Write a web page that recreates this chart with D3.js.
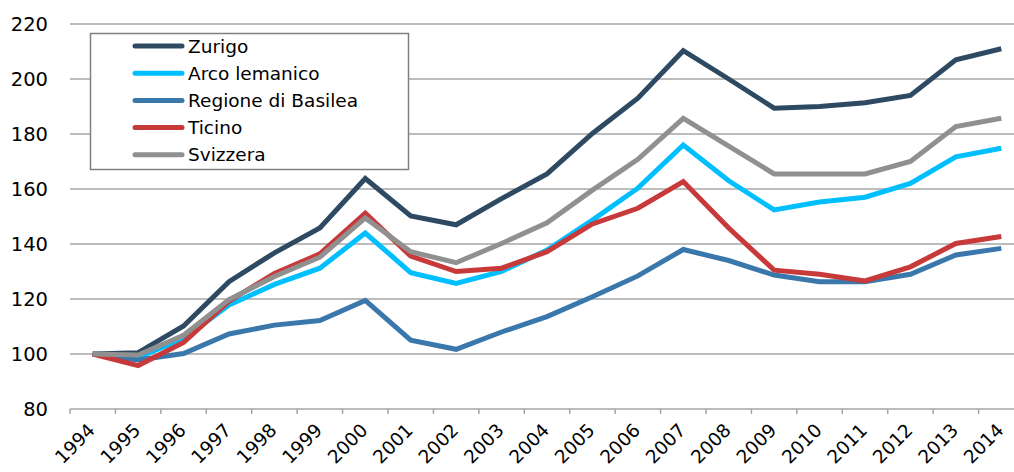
<!DOCTYPE html>
<html>
<head>
<meta charset="utf-8">
<script src="https://cdn.jsdelivr.net/npm/d3@7"></script>
<style>
  body { margin: 0; background: #fff; }
  svg text { font-family: "DejaVu Sans", "Liberation Sans", sans-serif; fill: #000; }
</style>
</head>
<body>
<div id="chart"></div>
<script>
var years = ["1994","1995","1996","1997","1998","1999","2000","2001","2002","2003","2004",
             "2005","2006","2007","2008","2009","2010","2011","2012","2013","2014"];

var zurigo   = [100, 100.5, 110.2, 126.3, 136.8, 145.8, 163.8, 150.2, 147, 156.5, 165.5, 180.2, 193, 210.3, 200, 189.4, 190, 191.4, 194, 207, 211];
var arco     = [100, 98.8, 105.5, 117.8, 125.3, 131.2, 144, 129.6, 125.7, 130, 137.8, 148.7, 160.3, 176, 163, 152.4, 155.3, 157, 162, 171.7, 174.8];
var basilea  = [100, 97.8, 100.2, 107.3, 110.5, 112.2, 119.5, 105, 101.7, 108, 113.6, 120.8, 128.4, 138, 134, 128.7, 126.3, 126.3, 129, 136, 138.4];
var ticino   = [100, 95.8, 104.2, 119.2, 129.3, 136.4, 151.2, 135.6, 130, 131.2, 137.2, 147.3, 153, 162.7, 145.8, 130.5, 129, 126.6, 131.7, 140.2, 142.7];
var svizzera = [100, 99.6, 106.8, 119.8, 128.2, 135.2, 149.5, 137.2, 133.2, 140.2, 147.7, 159.6, 170.8, 185.7, 175.6, 165.5, 165.5, 165.5, 170, 182.7, 185.7];

var seriesNames  = ["Zurigo", "Arco lemanico", "Regione di Basilea", "Ticino", "Svizzera"];
var seriesColors = ["#2E4A62", "#00BFFF", "#3A78AC", "#C8393A", "#909090"];
var yTicks = [80, 100, 120, 140, 160, 180, 200, 220];

var series = [zurigo, arco, basilea, ticino, svizzera].map(function(vals, i) {
    return { name: seriesNames[i], color: seriesColors[i], values: vals };
});

var width = 1014, height = 472;
var margin = { top: 24, left: 70, bottom: 63 };

var svg = d3.select("#chart").append("svg")
    .attr("width", width)
    .attr("height", height);

var x = d3.scaleBand()
    .domain(years)
    .range([margin.left, 1024]);

var y = d3.scaleLinear()
    .domain([80, 220])
    .range([height - margin.bottom, margin.top]);

// gridlines
svg.append("g")
    .selectAll("line")
    .data(yTicks.slice(1))
    .enter().append("line")
    .attr("x1", margin.left)
    .attr("x2", width)
    .attr("y1", function(d) { return y(d); })
    .attr("y2", function(d) { return y(d); })
    .attr("stroke", "#A6A6A6")
    .attr("stroke-width", 1.5);

// y labels
svg.append("g")
    .selectAll("text")
    .data(yTicks)
    .enter().append("text")
    .attr("x", 48)
    .attr("y", function(d) { return y(d); })
    .attr("dy", "0.36em")
    .attr("text-anchor", "end")
    .style("font-size", "19.5px")
    .text(function(d) { return d; });

// x axis
var xAxis = svg.append("g")
    .attr("transform", "translate(0," + y(80) + ")");

xAxis.append("line")
    .attr("x1", margin.left)
    .attr("x2", width)
    .attr("stroke", "#A6A6A6")
    .attr("stroke-width", 1.5);

xAxis.selectAll(".tk")
    .data(years)
    .enter().append("line")
    .attr("class", "tk")
    .attr("x1", function(d) { return x(d); })
    .attr("x2", function(d) { return x(d); })
    .attr("y1", 0)
    .attr("y2", 5)
    .attr("stroke", "#A6A6A6")
    .attr("stroke-width", 1.5);

xAxis.selectAll(".lbl")
    .data(years)
    .enter().append("text")
    .attr("class", "lbl")
    .attr("text-anchor", "end")
    .style("font-size", "18.5px")
    .attr("transform", function(d) {
        return "translate(" + (x(d) + x.bandwidth() / 2 - 6) + ",13) rotate(-45)";
    })
    .attr("dy", "0.72em")
    .text(function(d) { return d; });

// lines
var line = d3.line()
    .x(function(d, i) { return x(years[i]) + x.bandwidth() / 2; })
    .y(function(d) { return y(d); });

svg.append("g")
    .selectAll("path")
    .data(series)
    .enter().append("path")
    .attr("fill", "none")
    .attr("stroke", function(d) { return d.color; })
    .attr("stroke-width", 5)
    .attr("stroke-linejoin", "miter")
    .attr("d", function(d) { return line(d.values); });

// legend
var legend = svg.append("g");

legend.append("rect")
    .attr("x", 90.5)
    .attr("y", 33.5)
    .attr("width", 318)
    .attr("height", 136)
    .attr("fill", "#fff")
    .attr("stroke", "#808080")
    .attr("stroke-width", 1.5);

var rows = legend.selectAll(".row")
    .data(series)
    .enter().append("g")
    .attr("transform", function(d, i) { return "translate(0," + (46 + i * 27.2) + ")"; });

rows.append("line")
    .attr("x1", 135)
    .attr("x2", 182)
    .attr("stroke", function(d) { return d.color; })
    .attr("stroke-width", 5)
    .attr("stroke-linecap", "round");

rows.append("text")
    .attr("x", 188)
    .attr("dy", "0.36em")
    .style("font-size", "18.5px")
    .text(function(d) { return d.name; });
</script>
</body>
</html>
